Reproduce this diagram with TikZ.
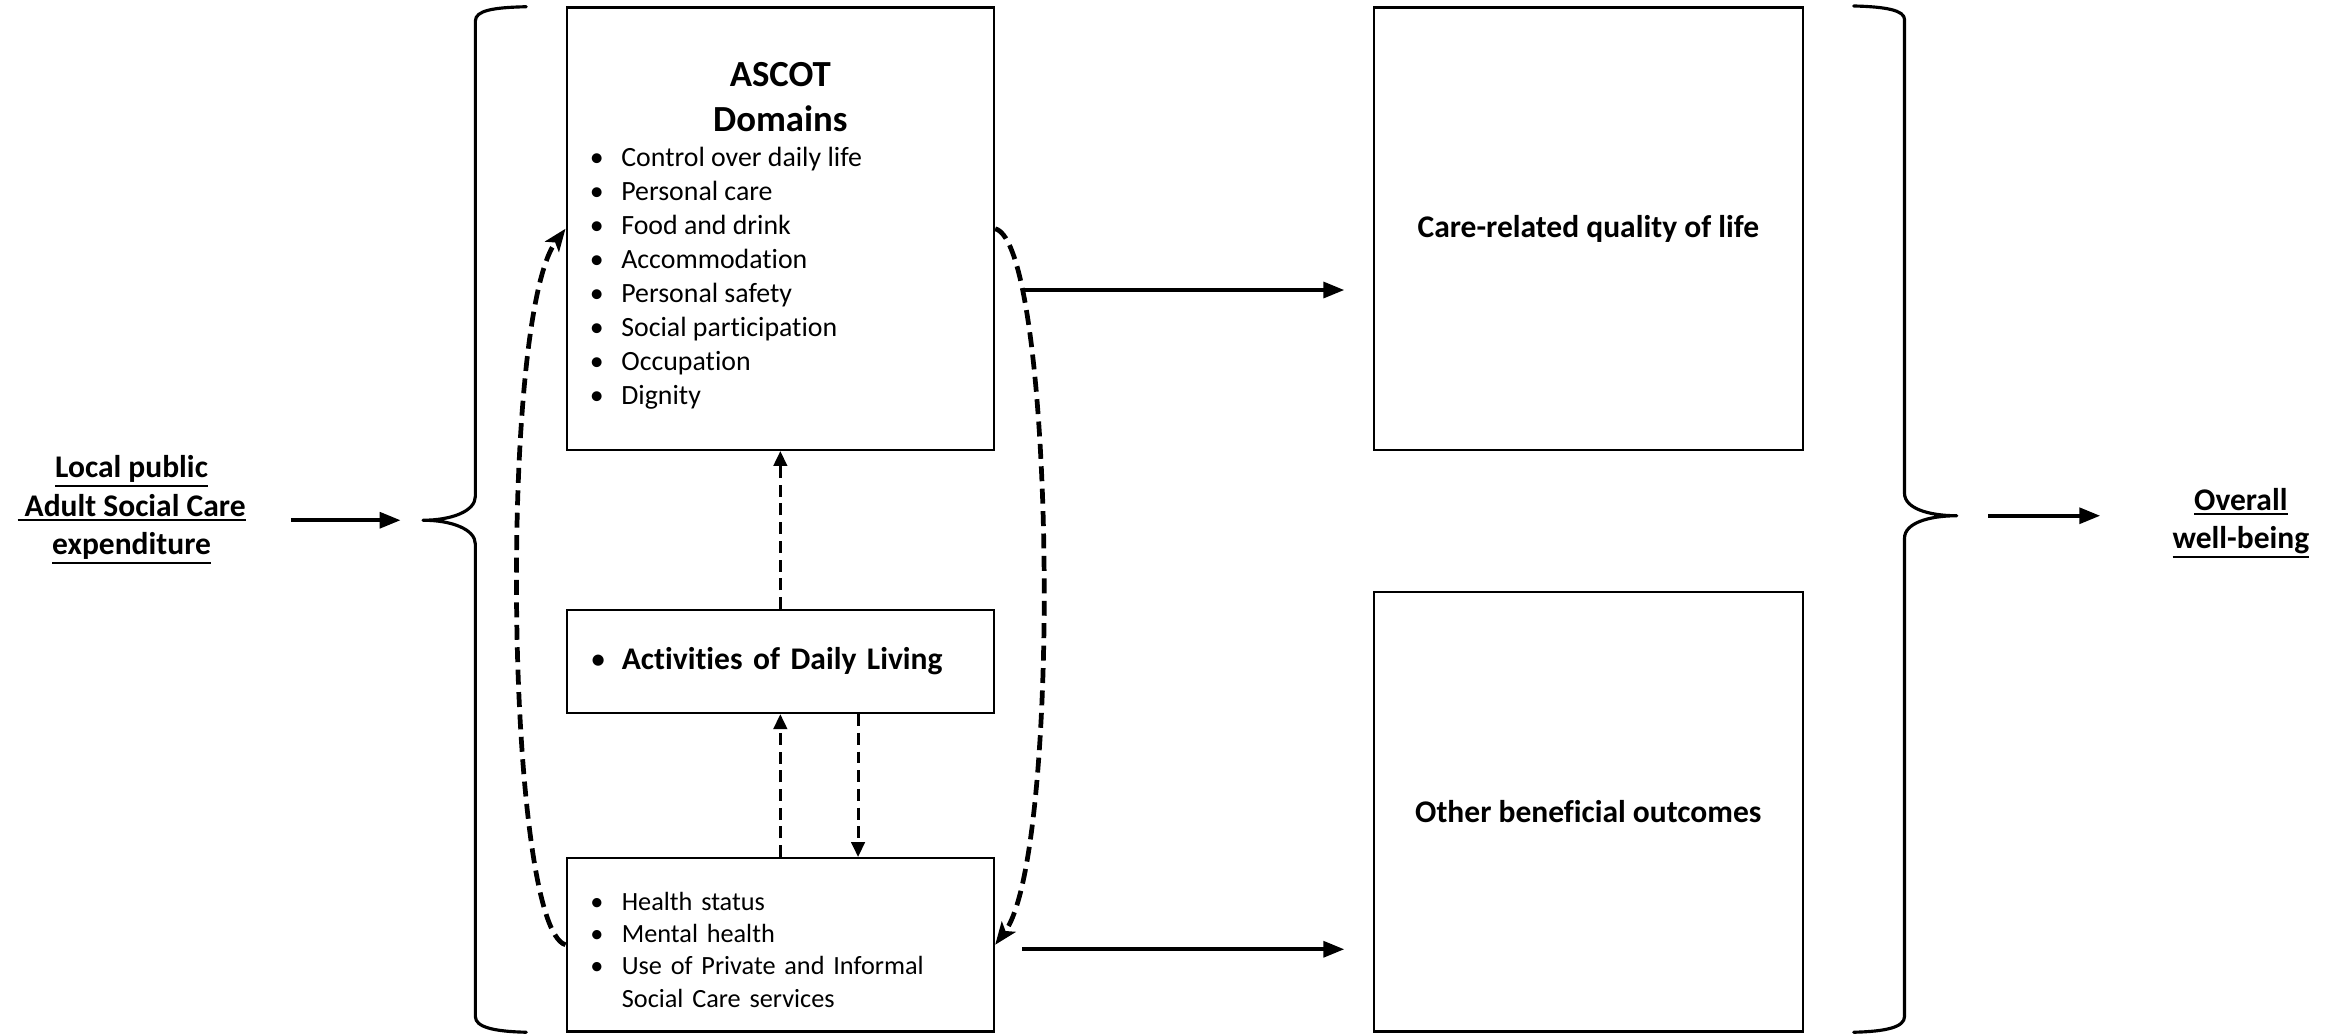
\documentclass[tikz,border=0pt]{standalone}
\usepackage{fontspec}
\setmainfont{Carlito}[Ligatures={NoCommon}]
\usetikzlibrary{arrows.meta,positioning}
\newcommand{\bul}{\makebox[4.2mm][l]{\mdseries\textbullet}}
\newcommand{\ulab}[1]{\setbox0\hbox{#1}\leavevmode\rlap{\rule[-\dimexpr\dp0+1.7pt\relax]{\wd0}{0.75pt}}\box0}
\tikzset{
  framebox/.style={
    draw,
    line width=0.8pt,
    inner sep=0pt,
    minimum width=57.2mm
  },
  listbox/.style={
    framebox,
    text width=50.8mm,
    inner xsep=3.2mm,
    align=left
  },
  outcomebox/.style={
    draw,
    line width=0.8pt,
    minimum width=57.4mm,
    align=center,
    font=\fontsize{12}{14.5}\selectfont\bfseries
  },
  sidelabel/.style={inner sep=0pt,align=center,font=\fontsize{12}{14.6}\selectfont\bfseries},
  mainarrow/.style={-{Triangle[length=2.8mm,width=2.1mm]},line width=1.5pt},
  linkarrow/.style={-{Triangle[length=2mm,width=1.8mm]},line width=1.1pt,dash pattern=on 1.6mm off 0.9mm},
  looparrow/.style={-{Stealth[length=3mm,width=2.3mm,inset=0.7mm]},line width=1.8pt,dash pattern=on 2mm off 1mm},
  bracepath/.style={line width=1.2pt,line join=round,line cap=round}
}

\begin{document}
\begin{tikzpicture}[x=0.2mm,y=-0.2mm]
  \useasboundingbox (0,0) rectangle (1568,692);

  % inputs and outputs
  \node[sidelabel] (spend) at (88,341) {\ulab{Local public}\\ \ulab{\ Adult Social Care}\\ \ulab{expenditure}};
  \node[sidelabel] (wellbeing) at (1499,350) {\ulab{Overall}\\ \ulab{well-being}};

  % middle column
  \node[framebox, minimum height=59.2mm] (ascot) at (522,153) {};
  \node[below=7.4mm of ascot.north, inner sep=0pt, align=center, font=\fontsize{14}{17.3}\selectfont\bfseries] (ascottitle) {ASCOT\\Domains};
  \node[below right=18.8mm and 3.2mm of ascot.north west, inner sep=0pt, align=left, font=\fontsize{10.6}{12.9}\selectfont] (domains)
    {\bul Control over daily life\\ \bul Personal care\\ \bul Food and drink\\ \bul Accommodation\\
     \bul Personal safety\\ \bul Social participation\\ \bul Occupation\\ \bul Dignity};
  \node[listbox, minimum height=13.8mm, font=\fontsize{12}{14.5}\selectfont\bfseries] (adl) at (522,442.5) {\bul Activities of Daily Living};
  \node[listbox, minimum height=23.2mm, font=\fontsize{10}{12.3}\selectfont] (health) at (522,632)
    {\rule{0pt}{10.6pt}\bul Health status\\ \bul Mental health\\ \bul Use of Private and Informal\\ \hspace*{4.2mm}Social Care services};

  % outcome column
  \node[outcomebox, minimum height=59.2mm] (care) at (1062.5,153) {Care-related quality of life};
  \node[outcomebox, minimum height=58.8mm] (other) at (1062.5,543) {Other beneficial outcomes};

  % braces
  \coordinate (lbrace) at (283,348);
  \coordinate (rbrace) at (1309,345);
  \draw[bracepath] (352,4.5) .. controls (330,5) and (318,7) .. (318,14) -- (318,332)
    .. controls (318,342) and (302,348) .. (lbrace) .. controls (302,348) and (318,354) .. (318,364)
    -- (318,680) .. controls (318,687) and (330,690) .. (352,690.5);
  \draw[bracepath] (1240,4) .. controls (1262,4.5) and (1274,7) .. (1274,13) -- (1274,330)
    .. controls (1274,340) and (1290,345) .. (rbrace) .. controls (1290,345) and (1274,350) .. (1274,360)
    -- (1274,680) .. controls (1274,687) and (1262,690) .. (1240,690.5);

  \draw[mainarrow, shorten <=6mm, shorten >=3mm] (spend.east |- lbrace) -- (lbrace);
  \draw[mainarrow, shorten <=4.2mm, shorten >=9.6mm] (rbrace) -- (wellbeing.west |- rbrace);
  \draw[mainarrow, shorten <=3.6mm, shorten >=3.8mm] ([yshift=-8.2mm]ascot.east) -- ([yshift=-8.2mm]care.west);
  \draw[mainarrow, shorten <=3.6mm, shorten >=3.8mm] ([yshift=-0.6mm]health.east) -- ([yshift=-0.6mm]health.east -| other.west);

  \draw[linkarrow] (adl.north) -- (ascot.south);
  \draw[linkarrow] (health.north) -- (adl.south);
  \draw[linkarrow] ([xshift=10.4mm]adl.south) -- ([xshift=10.4mm]health.north);

  \draw[looparrow] (health.west) .. controls +(-40,-12) and +(-45,60) .. (ascot.west);
  \draw[looparrow] (ascot.east) .. controls +(40,10) and +(45,-60) .. (health.east);
\end{tikzpicture}
\end{document}
